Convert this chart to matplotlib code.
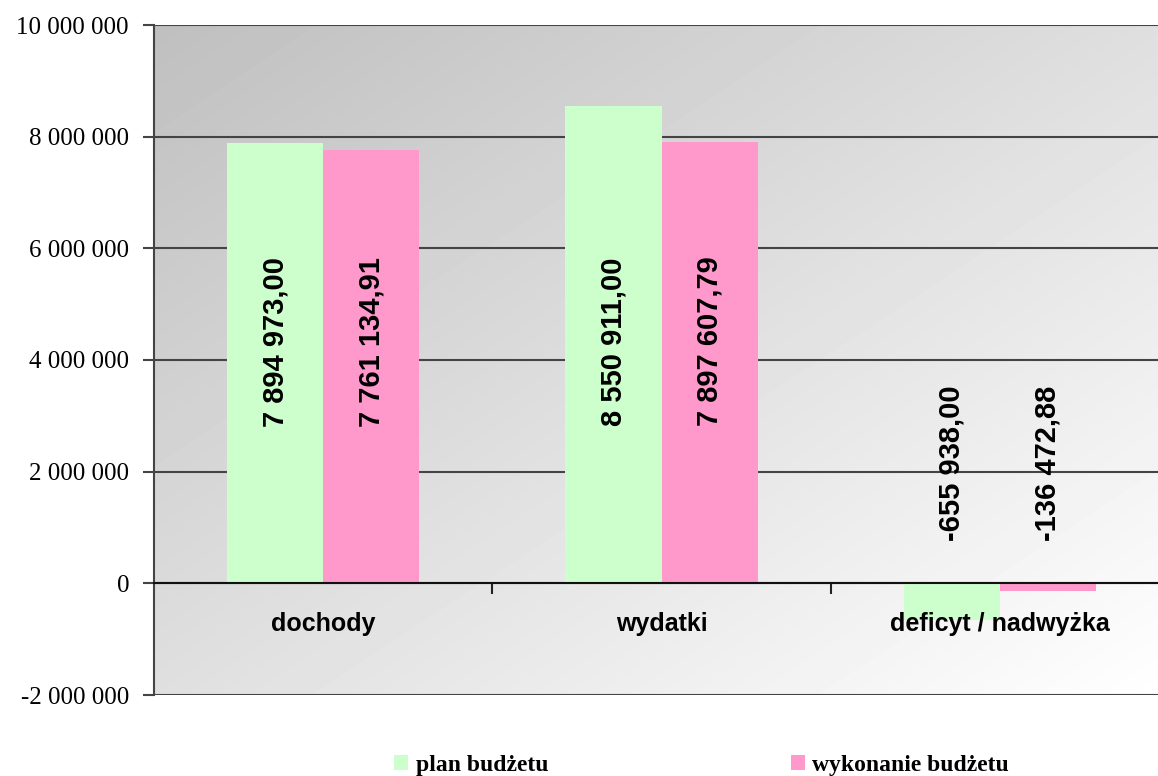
import numpy as np
import matplotlib
matplotlib.use("Agg")
import matplotlib.pyplot as plt
from matplotlib.patches import Patch
from matplotlib.ticker import FuncFormatter

# budget data (PLN)
categories = ["dochody", "wydatki", "deficyt / nadwyżka"]
plan = [7894973.00, 8550911.00, -655938.00]
wykonanie = [7761134.91, 7897607.79, -136472.88]
series_names = ["plan budżetu", "wykonanie budżetu"]
yticks = [-2000000, 0, 2000000, 4000000, 6000000, 8000000, 10000000]

green = "#ccffcc"
pink = "#ff99cc"

def pl_number(v, decimals=2):
    s = "{:,.{}f}".format(v, decimals)
    return s.replace(",", " ").replace(".", ",")

def tick_fmt(v, pos):
    return "{:,.0f}".format(v).replace(",", " ")

fig = plt.figure(figsize=(11.58, 7.76), dpi=100)
ax = fig.add_axes([154 / 1158, 81 / 776, 1015 / 1158, 670 / 776])

# gray (top left) -> white (bottom right) gradient background
gx, gy = np.meshgrid(np.linspace(0, 1, 200), np.linspace(0, 1, 200))
grad = 0.75 + 0.25 * (gx + gy) / 2
ax.imshow(grad, cmap="gray", vmin=0, vmax=1, extent=[0, 1, 0, 1],
          transform=ax.transAxes, aspect="auto", zorder=0, interpolation="bilinear")

x = np.arange(len(categories))
w = 0.284
ax.bar(x - w / 2, plan, w, color=green, zorder=3)
ax.bar(x + w / 2, wykonanie, w, color=pink, zorder=3)

# value labels, rotated, in the bar area
for i in range(len(categories)):
    for off, v in [(-w / 2, plan[i]), (w / 2, wykonanie[i])]:
        ly = 4330000 if v > 0 else 2150000
        ax.text(x[i] + off, ly, pl_number(v), rotation=90, ha="center", va="center",
                fontsize=21, fontweight="bold", family="Liberation Sans", zorder=5)

for i, c in enumerate(categories):
    ax.text(x[i], -730000, c, ha="center", va="center", fontsize=18,
            fontweight="bold", family="Liberation Sans", zorder=5)

ax.set_xlim(-0.5, 2.5)
ax.set_ylim(-2000000, 10000000)
ax.set_yticks(yticks)
ax.yaxis.set_major_formatter(FuncFormatter(tick_fmt))
for t in ax.get_yticklabels():
    t.set_family("Liberation Serif")
    t.set_fontsize(18)
ax.tick_params(axis="y", length=8, width=1.5, color="#444444", pad=10)

ax.set_xticks([0.5, 1.5])
ax.set_xticklabels([])
ax.tick_params(axis="x", direction="out", length=8, width=1.5, color="#222222")
ax.spines["bottom"].set_position(("data", 0))
ax.spines["bottom"].set_color("#111111")
ax.spines["bottom"].set_linewidth(1.5)
ax.spines["bottom"].set_zorder(4)
ax.spines["left"].set_color("#444444")
ax.spines["left"].set_linewidth(1.5)
ax.spines["top"].set_visible(False)
ax.spines["right"].set_visible(False)

ax.yaxis.grid(True, color="#444444", linewidth=1.5, zorder=1)
ax.set_axisbelow(True)

handles = [Patch(facecolor=green, edgecolor="none"), Patch(facecolor=pink, edgecolor="none")]
fig.legend(handles, series_names, loc="center", bbox_to_anchor=(0.606, 0.014), ncol=2,
           frameon=False, handlelength=0.6, handleheight=0.6, handletextpad=0.3,
           columnspacing=10.3, prop={"family": "Liberation Serif", "weight": "bold", "size": 17})

fig.savefig("out.png", dpi=100)
